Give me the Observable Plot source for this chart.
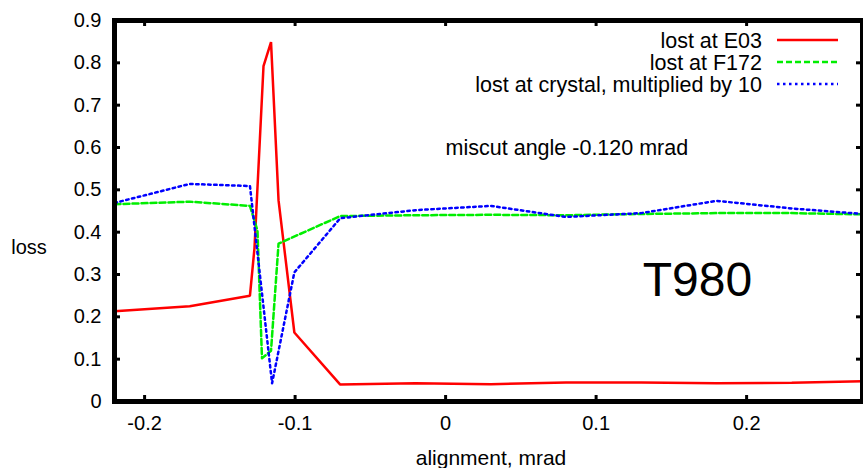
<!DOCTYPE html>
<html>
<head>
<meta charset="utf-8">
<script src="https://cdn.jsdelivr.net/npm/d3@7"></script>
<script src="https://cdn.jsdelivr.net/npm/@observablehq/plot@0.6"></script>
<style>
  html, body { margin: 0; padding: 0; background: #fff; overflow: hidden; }
  #chart { width: 863px; height: 468px; }
  svg { font-family: "Liberation Sans", Arial, sans-serif; }
</style>
</head>
<body>
<div id="chart"></div>
<script>
// ---- data ----
const e03X   = [-0.22, -0.17, -0.13, -0.127, -0.121, -0.116, -0.111, -0.1005, -0.07, -0.02, 0.03, 0.08, 0.13, 0.18, 0.23, 0.277];
const e03Y   = [0.213, 0.225, 0.250, 0.362, 0.792, 0.849, 0.475, 0.163, 0.040, 0.043, 0.041, 0.045, 0.045, 0.043, 0.044, 0.048];

const f172X  = [-0.22, -0.17, -0.13, -0.125, -0.122, -0.116, -0.111, -0.07, -0.02, 0.03, 0.08, 0.13, 0.18, 0.23, 0.277];
const f172Y  = [0.466, 0.472, 0.462, 0.404, 0.102, 0.120, 0.373, 0.438, 0.440, 0.441, 0.440, 0.443, 0.445, 0.445, 0.442];

const crysX  = [-0.22, -0.17, -0.13, -0.1153, -0.1005, -0.07, -0.02, 0.03, 0.08, 0.13, 0.18, 0.23, 0.277];
const crysY  = [0.469, 0.514, 0.509, 0.043, 0.305, 0.433, 0.452, 0.462, 0.436, 0.445, 0.474, 0.456, 0.443];

const xTicks = [-0.2, -0.1, 0, 0.1, 0.2];
const yTicks = [0, 0.1, 0.2, 0.3, 0.4, 0.5, 0.6, 0.7, 0.8, 0.9];

const seriesNames = ["lost at E03", "lost at F172", "lost at crystal, multiplied by 10"];
const seriesColors = ["#ff0000", "#00ee00", "#0000ff"];
const seriesDash = [null, "6,3", "2.5,3.5"];

const annotation = "miscut angle -0.120 mrad";
const tag = "T980";

const toRows = (xs, ys) => xs.map((x, i) => ({x, y: ys[i]}));
const e03 = toRows(e03X, e03Y);
const f172 = toRows(f172X, f172Y);
const crys = toRows(crysX, crysY);

const W = 863, H = 468;
const mL = 114, mR = 1, mT = 20, mB = 67;
const plotH = H - mT - mB, plotW = W - mL - mR;
const tickLen = 6;
const fmt = d => d === 0 ? "0" : String(d);

const chart = Plot.plot({
  width: W,
  height: H,
  marginLeft: mL,
  marginRight: mR,
  marginTop: mT,
  marginBottom: mB,
  style: {fontFamily: "'Liberation Sans', Arial, sans-serif", fontSize: "20px", color: "#000", background: "#fff", overflow: "visible"},
  x: {domain: [-0.22, 0.277], label: null},
  y: {domain: [0, 0.9], label: null},
  marks: [
    Plot.axisX({ticks: xTicks, tickSize: 0, tickPadding: 14, fontSize: 20, tickFormat: fmt}),
    Plot.axisY({ticks: yTicks, tickSize: 0, tickPadding: 13, fontSize: 20, tickFormat: fmt}),
    Plot.line(e03, {x: "x", y: "y", stroke: seriesColors[0], strokeWidth: 2.5, strokeLinejoin: "miter"}),
    Plot.line(f172, {x: "x", y: "y", stroke: seriesColors[1], strokeWidth: 2.5, strokeDasharray: seriesDash[1]}),
    Plot.line(crys, {x: "x", y: "y", stroke: seriesColors[2], strokeWidth: 2.5, strokeDasharray: seriesDash[2]}),
    // inward ticks, mirrored on all four sides
    Plot.ruleX(xTicks, {x: d => d, insetTop: plotH - tickLen, stroke: "#000", strokeWidth: 3}),
    Plot.ruleX(xTicks, {x: d => d, insetBottom: plotH - tickLen, stroke: "#000", strokeWidth: 3}),
    Plot.ruleY(yTicks, {y: d => d, insetRight: plotW - tickLen, stroke: "#000", strokeWidth: 3}),
    Plot.ruleY(yTicks, {y: d => d, insetLeft: plotW - tickLen, stroke: "#000", strokeWidth: 3}),
    Plot.frame({stroke: "#000", strokeWidth: 5}),
    Plot.text([annotation], {x: 0.0, y: 0.598, text: d => d, textAnchor: "start", fontSize: 21.5, fill: "#000"}),
    Plot.text([tag], {x: 0.131, y: 0.285, text: d => d, textAnchor: "start", fontSize: 48, fill: "#000"})
  ]
});

// axis titles and legend added to the svg
const svg = d3.select(chart);
svg.append("text")
  .attr("x", 29).attr("y", 254)
  .attr("text-anchor", "middle")
  .attr("font-size", 20)
  .attr("fill", "#000")
  .text("loss");
svg.append("text")
  .attr("x", 491).attr("y", 465)
  .attr("text-anchor", "middle")
  .attr("font-size", 21)
  .attr("fill", "#000")
  .text("alignment, mrad");

const lg = svg.append("g");
seriesNames.forEach((name, i) => {
  const y = 40 + i * 22;
  lg.append("text")
    .attr("x", 762).attr("y", y)
    .attr("dy", "0.35em")
    .attr("text-anchor", "end")
    .attr("font-size", 21.5)
    .attr("fill", "#000")
    .text(name);
  const ln = lg.append("line")
    .attr("x1", 777).attr("x2", 838)
    .attr("y1", y).attr("y2", y)
    .attr("stroke", seriesColors[i])
    .attr("stroke-width", 2.5);
  if (seriesDash[i]) ln.attr("stroke-dasharray", seriesDash[i]);
});

document.getElementById("chart").appendChild(chart);
</script>
</body>
</html>
